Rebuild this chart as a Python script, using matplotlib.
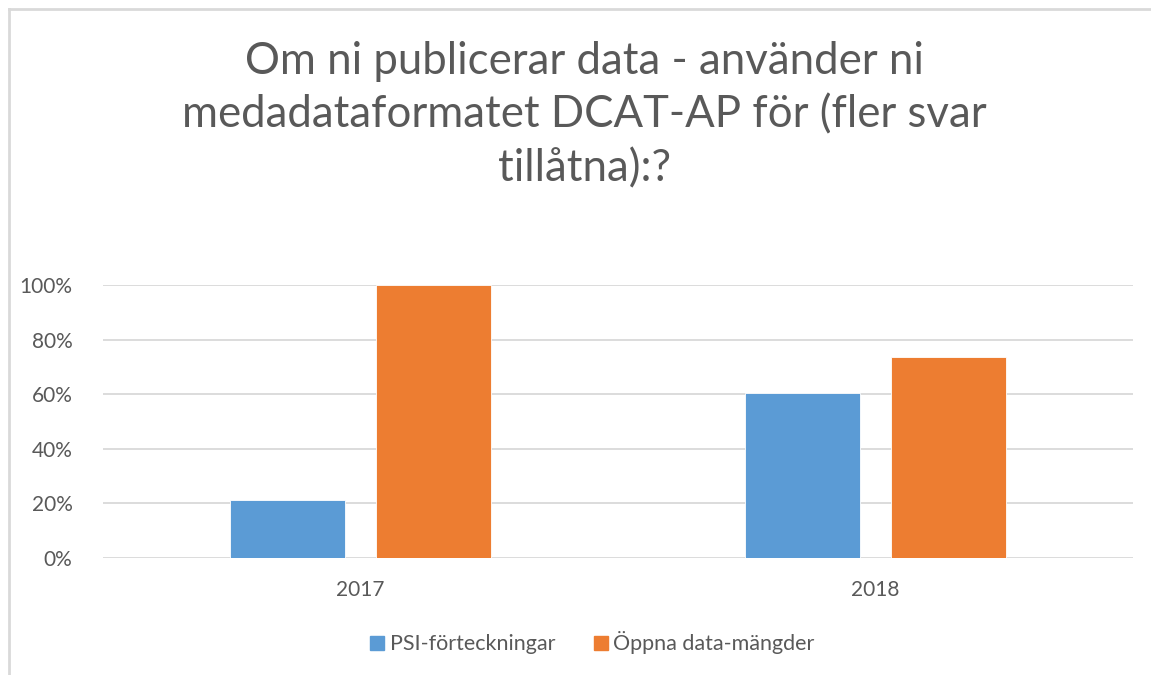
# Grouped bar chart: DCAT-AP usage 2017 vs 2018

import numpy as np
import matplotlib
matplotlib.use("Agg")
import matplotlib.pyplot as plt
from matplotlib.lines import Line2D
from matplotlib.ticker import PercentFormatter

# Data
years = ["2017", "2018"]
psi = [0.212, 0.605]
oppna = [1.00, 0.737]
series_names = ["PSI-förteckningar", "Öppna data-mängder"]
colors = ["#5B9BD5", "#ED7D31"]
title = "Om ni publicerar data - använder ni\nmedadataformatet DCAT-AP för (fler svar\ntillåtna):?"

text_color = "#595959"
grid_color = "#D9D9D9"

plt.rcParams["font.family"] = ["Lato", "DejaVu Sans"]

fig = plt.figure(figsize=(11.51, 6.75), dpi=100)
ax = fig.add_axes([103 / 1151, 1 - 558 / 675, 1030 / 1151, 273 / 675])

x = np.arange(len(years))
width = 0.223
offset = 0.141
ax.bar(x - offset, psi, width, color=colors[0], edgecolor="white", linewidth=0.6,
       label=series_names[0], zorder=3)
ax.bar(x + offset, oppna, width, color=colors[1], edgecolor="white", linewidth=0.6,
       label=series_names[1], zorder=3)

ax.set_xlim(-0.5, 1.5)
ax.set_ylim(0, 1)
ax.set_yticks(np.arange(0, 1.01, 0.2))
ax.yaxis.set_major_formatter(PercentFormatter(1.0, decimals=0))
ax.set_xticks(x)
ax.set_xticklabels(years)
ax.grid(axis="y", color=grid_color, linewidth=1.3, zorder=0)
ax.set_axisbelow(True)
for s in ax.spines.values():
    s.set_visible(False)
ax.tick_params(axis="both", length=0, labelsize=15, labelcolor=text_color)
ax.tick_params(axis="y", pad=22)
ax.tick_params(axis="x", pad=16)

# title
fig.text(0.508, 0.94, title, ha="center", va="top", fontsize=31.5,
         color=text_color, linespacing=1.38)

# legend
handles = [Line2D([], [], marker="s", linestyle="none", markersize=10,
                  markerfacecolor=c, markeredgecolor=c) for c in colors]
fig.legend(handles, series_names, loc="center", bbox_to_anchor=(0.513, 1 - 643 / 675),
           ncol=2, frameon=False, fontsize=15.5, labelcolor=text_color,
           handletextpad=0.1, columnspacing=1.6, handlelength=1.0)

# chart border (top and left visible in the crop)
fig.add_artist(Line2D([9 / 1151, 9 / 1151], [0, 1 - 9 / 675], color=grid_color,
                      linewidth=2, transform=fig.transFigure))
fig.add_artist(Line2D([9 / 1151, 1], [1 - 9 / 675, 1 - 9 / 675], color=grid_color,
                      linewidth=2, transform=fig.transFigure))

fig.savefig("out.png", dpi=100, facecolor="white")
